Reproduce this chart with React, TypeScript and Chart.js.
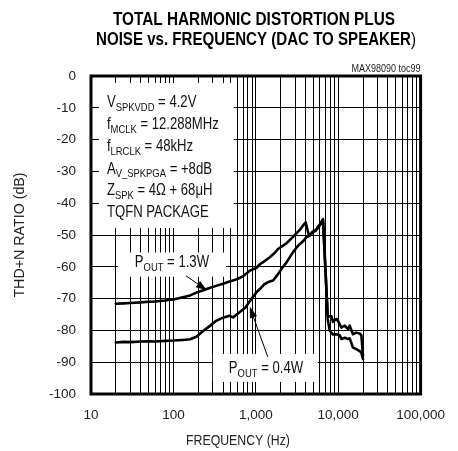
import React, { useEffect, useRef } from "react";
import { Chart, registerables } from "chart.js";

Chart.register(...registerables);

const FONT = "'Liberation Sans', Arial, Helvetica, sans-serif";
const NARROW = 0.82; // horizontal squeeze to imitate a condensed face

// ---- data ----
const freq13 = [20, 25, 30, 40, 50, 60, 80, 100, 130, 160, 190, 230, 280, 330, 400, 480, 580, 700, 850, 1020, 1120, 1280, 1480, 1700, 1860, 2100, 2360, 2830, 3100, 3420, 3700, 4030, 4250, 4430, 4700, 4960, 5300, 5690, 6100, 6540, 7470, 8280, 8650, 9500, 9950, 10900, 12000, 13150, 13800, 15100, 16600, 18200, 19100, 20000];
const thd13 = [-71.6, -71.5, -71.4, -71.2, -71.0, -70.9, -70.6, -70.3, -69.6, -69.0, -68.1, -67.4, -66.6, -66.0, -65.3, -64.6, -64.0, -63.0, -61.2, -60.3, -59.2, -58.2, -57.0, -55.6, -54.4, -53.5, -52.6, -50.6, -49.5, -48.4, -47.2, -46.0, -48.5, -50.2, -49.5, -48.8, -48.7, -47.4, -46.3, -45.0, -75.5, -75.6, -77.3, -76.4, -77.0, -79.1, -78.5, -79.6, -78.5, -81.2, -80.7, -81.0, -81.5, -88.0];

const freq04 = [20, 25, 30, 40, 50, 60, 80, 100, 130, 160, 190, 230, 280, 330, 400, 480, 530, 640, 750, 845, 1020, 1120, 1280, 1480, 1620, 1860, 2100, 2360, 2830, 3120, 3420, 3740, 4110, 4520, 4960, 5690, 6540, 7470, 7890, 8650, 9500, 10400, 10940, 12000, 13150, 13800, 15100, 16600, 18200, 19100, 20000];
const thd04 = [-83.8, -83.6, -83.7, -83.5, -83.4, -83.5, -83.3, -83.2, -83.0, -82.8, -82.0, -80.2, -78.5, -77.0, -76.0, -75.4, -75.9, -74.2, -72.8, -70.8, -68.0, -67.0, -65.4, -64.6, -64.3, -62.3, -60.3, -58.6, -55.4, -54.0, -52.8, -52.0, -50.7, -50.2, -49.1, -47.8, -45.3, -76.5, -80.1, -81.3, -81.2, -81.5, -82.7, -82.3, -82.7, -82.5, -85.4, -85.9, -86.5, -87.0, -89.0];

// ---- axes ----
const xDecades = [10, 100, 1000, 10000, 100000];
const xTickLabels = ["10", "100", "1,000", "10,000", "100,000"];
const xMinorMultipliers = [1, 2, 3, 4, 5, 6, 7, 8, 9];
const yTickValues = [0, -10, -20, -30, -40, -50, -60, -70, -80, -90, -100];
const yTickLabels = ["0", "-10", "-20", "-30", "-40", "-50", "-60", "-70", "-80", "-90", "-100"];

const xGridValues: number[] = [];
xDecades.forEach((d, i) => {
  if (i === xDecades.length - 1) { xGridValues.push(d); return; }
  xMinorMultipliers.forEach((m) => xGridValues.push(d * m));
});

// ---- text ----
const titleLine1 = "TOTAL HARMONIC DISTORTION PLUS";
const titleLine2 = "NOISE vs. FREQUENCY (DAC TO SPEAKER";
const xTitle = "FREQUENCY (Hz)";
const yTitle = "THD+N RATIO (dB)";
const docId = "MAX98090 toc99";

type Part = { t: string; sub?: boolean };
const infoLines: Part[][] = [
  [{ t: "V" }, { t: "SPKVDD", sub: true }, { t: " = 4.2V" }],
  [{ t: "f" }, { t: "MCLK", sub: true }, { t: " = 12.288MHz" }],
  [{ t: "f" }, { t: "LRCLK", sub: true }, { t: " = 48kHz" }],
  [{ t: "A" }, { t: "V_SPKPGA", sub: true }, { t: " = +8dB" }],
  [{ t: "Z" }, { t: "SPK", sub: true }, { t: " = 4\u03A9 + 68\u03BCH" }],
  [{ t: "TQFN PACKAGE" }],
];
const infoLineDb = [-8.5, -15.4, -22.3, -29.3, -36.0, -42.9];
const infoLineFreq = 15.6;

const label13: Part[] = [{ t: "P" }, { t: "OUT", sub: true }, { t: " = 1.3W" }];
const label04: Part[] = [{ t: "P" }, { t: "OUT", sub: true }, { t: " = 0.4W" }];

// white boxes in data coords: [f0, f1, db0, db1]
const whiteBoxes = [
  [12.5, 540, -2.2, -47.8],
  [21.2, 433, -55.5, -63.1],
  [301, 5650, -87.4, -96.2],
];
// annotation anchors (data coords)
const label13Pos = [34, -58.7];
const label04Pos = [471, -92.1];
const arrow13 = [142, -62.8, 255, -67.4];
const arrow04 = [1396, -88.3, 845, -72.6];

function txt(ctx: CanvasRenderingContext2D, s: string, x: number, y: number, size: number, align: CanvasTextAlign = "left", bold = false, sx = NARROW) {
  ctx.save();
  ctx.font = `${bold ? "bold " : ""}${size}px ${FONT}`;
  const w = ctx.measureText(s).width * sx;
  ctx.translate(x, y);
  ctx.scale(sx, 1);
  ctx.textAlign = align;
  ctx.textBaseline = "middle";
  ctx.fillText(s, 0, 0);
  ctx.restore();
  return w;
}

function drawRich(ctx: CanvasRenderingContext2D, parts: Part[], x: number, y: number, size: number, subSize: number) {
  let cx = x;
  for (const p of parts) {
    if (p.sub) cx += txt(ctx, p.t, cx, y + 5, subSize);
    else cx += txt(ctx, p.t, cx, y, size);
  }
}

function drawArrow(ctx: CanvasRenderingContext2D, x0: number, y0: number, x1: number, y1: number) {
  const ang = Math.atan2(y1 - y0, x1 - x0);
  const len = 11, hw = 3.8;
  ctx.strokeStyle = "#000";
  ctx.lineWidth = 1;
  ctx.beginPath();
  ctx.moveTo(x0, y0);
  ctx.lineTo(x1 - Math.cos(ang) * len * 0.8, y1 - Math.sin(ang) * len * 0.8);
  ctx.stroke();
  ctx.beginPath();
  ctx.moveTo(x1, y1);
  ctx.lineTo(x1 - Math.cos(ang) * len - Math.sin(ang) * hw, y1 - Math.sin(ang) * len + Math.cos(ang) * hw);
  ctx.lineTo(x1 - Math.cos(ang) * len + Math.sin(ang) * hw, y1 - Math.sin(ang) * len - Math.cos(ang) * hw);
  ctx.closePath();
  ctx.fillStyle = "#000";
  ctx.fill();
}

const overlayPlugin = {
  id: "overlay",
  beforeDatasetsDraw(chart: any) {
    const { ctx, scales } = chart;
    const xs = scales.x, ys = scales.y;
    ctx.save();
    ctx.fillStyle = "#fff";
    for (const b of whiteBoxes) {
      const x0 = xs.getPixelForValue(b[0]);
      const x1 = xs.getPixelForValue(b[1]);
      const y0 = ys.getPixelForValue(b[2]);
      const y1 = ys.getPixelForValue(b[3]);
      ctx.fillRect(x0, y0, x1 - x0, y1 - y0);
    }
    ctx.restore();
  },
  afterDraw(chart: any) {
    const { ctx, scales, chartArea } = chart;
    const xs = scales.x, ys = scales.y;
    ctx.save();
    // border
    ctx.strokeStyle = "#000";
    ctx.lineWidth = 3;
    ctx.strokeRect(chartArea.left, chartArea.top, chartArea.right - chartArea.left, chartArea.bottom - chartArea.top);

    ctx.fillStyle = "#111";
    infoLines.forEach((parts, i) => {
      drawRich(ctx, parts, xs.getPixelForValue(infoLineFreq), ys.getPixelForValue(infoLineDb[i]), 16, 11.5);
    });
    drawRich(ctx, label13, xs.getPixelForValue(label13Pos[0]), ys.getPixelForValue(label13Pos[1]), 16, 11.5);
    drawRich(ctx, label04, xs.getPixelForValue(label04Pos[0]), ys.getPixelForValue(label04Pos[1]), 16, 11.5);

    drawArrow(ctx, xs.getPixelForValue(arrow13[0]), ys.getPixelForValue(arrow13[1]), xs.getPixelForValue(arrow13[2]), ys.getPixelForValue(arrow13[3]));
    drawArrow(ctx, xs.getPixelForValue(arrow04[0]), ys.getPixelForValue(arrow04[1]), xs.getPixelForValue(arrow04[2]), ys.getPixelForValue(arrow04[3]));

    // doc id
    ctx.fillStyle = "#222";
    txt(ctx, docId, chartArea.right, 69, 11, "right");

    // titles (fitted to the reference widths)
    ctx.fillStyle = "#000";
    ctx.font = `bold 18px ${FONT}`;
    const w1 = ctx.measureText(titleLine1).width;
    txt(ctx, titleLine1, 254, 20, 18, "center", true, 282 / w1);
    ctx.font = `bold 18px ${FONT}`;
    const wb = ctx.measureText(titleLine2).width;
    ctx.font = `18px ${FONT}`;
    const wp = ctx.measureText(")").width;
    const sc = 320 / (wb + wp);
    const startX = 256 - 160;
    txt(ctx, titleLine2, startX, 40.5, 18, "left", true, sc);
    txt(ctx, ")", startX + wb * sc, 40.5, 18, "left", false, sc);

    // axis titles
    ctx.fillStyle = "#222";
    txt(ctx, xTitle, 238, 441, 15, "center");
    ctx.save();
    ctx.translate(20, 235);
    ctx.rotate(-Math.PI / 2);
    txt(ctx, yTitle, 0, 0, 15, "center", false, 0.95);
    ctx.restore();
    ctx.restore();
  },
};

export default function App() {
  const ref = useRef<HTMLCanvasElement | null>(null);
  useEffect(() => {
    if (!ref.current) return;
    const lineStyle = {
      borderColor: "#000",
      borderWidth: 2.6,
      pointRadius: 0,
      tension: 0,
      fill: false,
      borderJoinStyle: "round",
      borderCapStyle: "round",
    };
    const chart = new Chart(ref.current, {
      type: "line",
      data: {
        datasets: [
          { label: "POUT = 1.3W", data: freq13.map((f, i) => ({ x: f, y: thd13[i] })), ...lineStyle },
          { label: "POUT = 0.4W", data: freq04.map((f, i) => ({ x: f, y: thd04[i] })), ...lineStyle },
        ],
      },
      options: {
        responsive: false,
        animation: false,
        events: [],
        layout: { padding: { top: 76, right: 37, left: 0, bottom: 0 } },
        plugins: { legend: { display: false }, title: { display: false }, tooltip: { enabled: false } },
        scales: {
          x: {
            type: "logarithmic",
            min: 10,
            max: 100000,
            afterBuildTicks: (s: any) => {
              s.ticks = xGridValues.map((v) => ({ value: v }));
            },
            afterFit: (s: any) => {
              s.height = 57;
            },
            ticks: {
              autoSkip: false,
              maxRotation: 0,
              minRotation: 0,
              padding: 13,
              color: "#222",
              font: { family: FONT, size: 13.5 },
              callback: (v: any) => {
                const i = xDecades.findIndex((d) => Math.abs(d - Number(v)) < 1e-6);
                return i >= 0 ? xTickLabels[i] : "";
              },
            },
            grid: { color: "#000", lineWidth: 1, drawTicks: false },
            border: { display: false },
          },
          y: {
            type: "linear",
            min: -100,
            max: 0,
            afterBuildTicks: (s: any) => {
              s.ticks = yTickValues.map((v) => ({ value: v }));
            },
            afterFit: (s: any) => {
              s.width = 91;
            },
            ticks: {
              padding: 15,
              color: "#222",
              font: { family: FONT, size: 13.5 },
              callback: (v: any) => {
                const i = yTickValues.indexOf(Number(v));
                return i >= 0 ? yTickLabels[i] : "";
              },
            },
            grid: { color: "#000", lineWidth: 1, drawTicks: false },
            border: { display: false },
          },
        },
      },
      plugins: [overlayPlugin],
    } as any);
    return () => chart.destroy();
  }, []);
  return (
    <div style={{ position: "absolute", left: 0, top: 0, width: 458, height: 451, background: "#fff" }}>
      <canvas ref={ref} width={458} height={451} />
    </div>
  );
}
